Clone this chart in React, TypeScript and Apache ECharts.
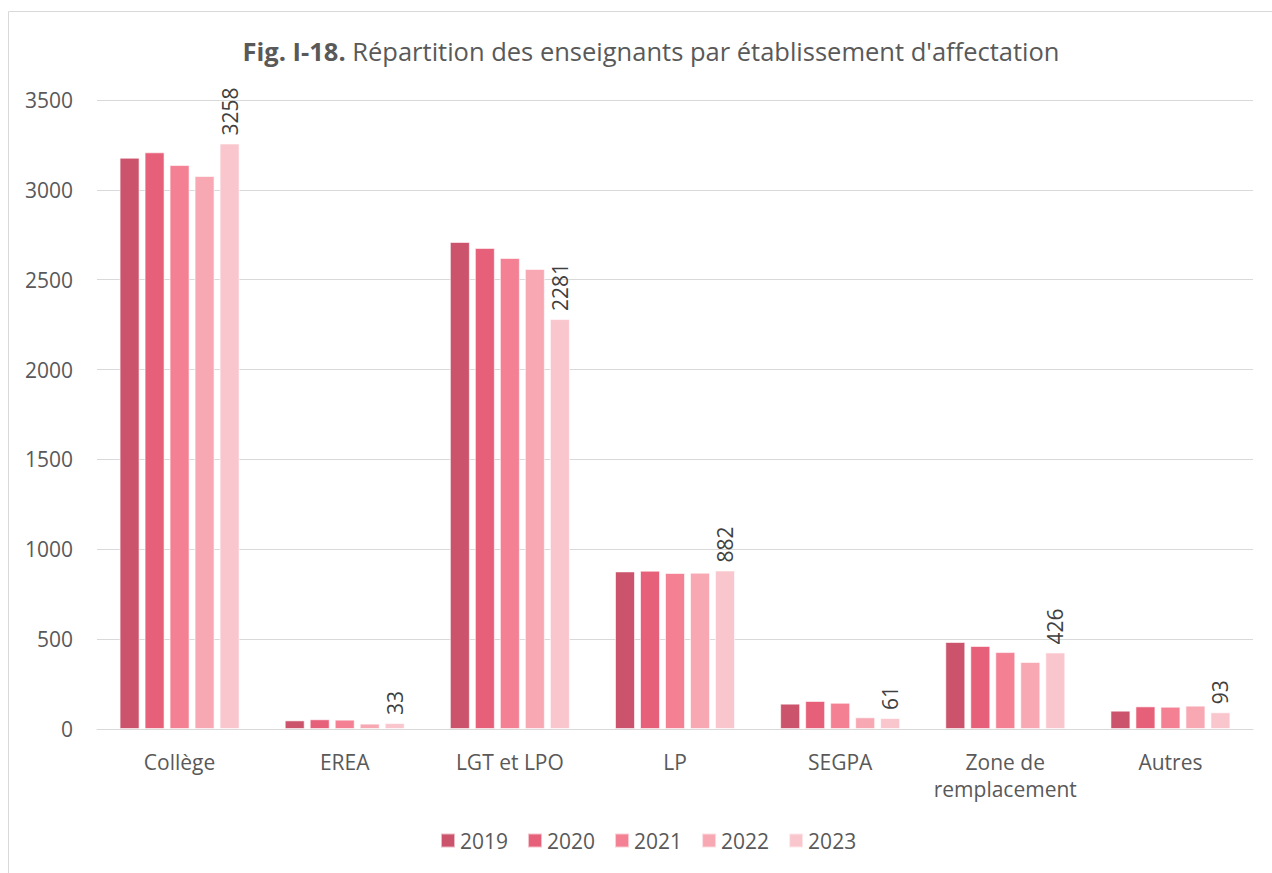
import React, { useEffect, useRef } from "react";
import * as echarts from "echarts";

const categories = ["Collège", "EREA", "LGT et LPO", "LP", "SEGPA", "Zone de\nremplacement", "Autres"];
const years = ["2019", "2020", "2021", "2022", "2023"];
const v2019 = [3179, 48, 2710, 877, 141, 484, 102];
const v2020 = [3209, 54, 2677, 881, 156, 462, 126];
const v2021 = [3138, 52, 2621, 868, 146, 428, 124];
const v2022 = [3077, 30, 2560, 870, 65, 373, 130];
const v2023 = [3258, 33, 2281, 882, 61, 426, 93];
const seriesValues = [v2019, v2020, v2021, v2022, v2023];
const colors = ["#CB536C", "#E7607A", "#F38093", "#F7A8B3", "#F9C6CD"];

const FONT = "'Open Sans', 'Noto Sans', sans-serif";

export default function App() {
  const ref = useRef<HTMLDivElement>(null);
  useEffect(() => {
    if (!ref.current) return;
    const chart = echarts.init(ref.current, null, { renderer: "svg" });
    chart.setOption({
      animation: false,
      textStyle: { fontFamily: FONT },
      title: {
        text: "{b|Fig. I-18.} Répartition des enseignants par établissement d'affectation",
        left: 646,
        textAlign: "center",
        top: 33,
        textStyle: {
          fontFamily: FONT,
          fontSize: 25.5,
          fontWeight: "normal",
          color: "#595959",
          rich: {
            b: { fontFamily: FONT, fontSize: 25.5, fontWeight: "bold", color: "#595959" },
          },
        },
      },
      graphic: [
        {
          type: "rect",
          shape: { x: 8.5, y: 11.5, width: 1300, height: 900 },
          style: { fill: "none", stroke: "#D9D9D9", lineWidth: 1 },
          silent: true,
        },
      ],
      legend: {
        data: years,
        bottom: 17,
        left: 435,
        itemWidth: 14,
        itemHeight: 14,
        itemGap: 19,
        icon: "rect",
        textStyle: { fontFamily: FONT, fontSize: 21, color: "#595959" },
      },
      grid: { left: 97, right: 19, top: 100, bottom: 144 },
      xAxis: {
        type: "category",
        data: categories,
        axisLine: { lineStyle: { color: "#D9D9D9", width: 1 } },
        axisTick: { show: false },
        axisLabel: { fontFamily: FONT, fontSize: 21, color: "#595959", margin: 19, lineHeight: 27, interval: 0 },
      },
      yAxis: {
        type: "value",
        min: 0,
        max: 3500,
        interval: 500,
        axisLine: { show: false },
        axisTick: { show: false },
        splitLine: { lineStyle: { color: "#D9D9D9", width: 1 } },
        axisLabel: { fontFamily: FONT, fontSize: 21, color: "#595959", margin: 24, formatter: (v: number) => String(v) },
      },
      series: years.map((y, i) => ({
        name: y,
        type: "bar",
        data: seriesValues[i],
        barWidth: 20,
        barGap: "25%",
        itemStyle: { color: colors[i], borderColor: "rgba(255,255,255,0.6)", borderWidth: 1 },
        label:
          i === 4
            ? {
                show: true,
                position: "top",
                rotate: 90,
                align: "left",
                verticalAlign: "middle",
                distance: 8,
                fontFamily: FONT,
                fontSize: 21,
                color: "#404040",
              }
            : { show: false },
      })),
    });
    return () => chart.dispose();
  }, []);
  return <div ref={ref} style={{ position: "absolute", left: 0, top: 0, width: 1272, height: 873 }} />;
}
